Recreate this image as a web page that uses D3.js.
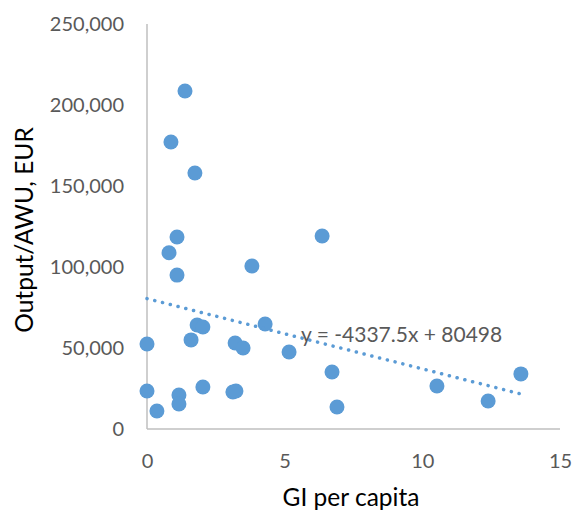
<!DOCTYPE html>
<html>
<head>
<meta charset="utf-8">
<script src="https://cdn.jsdelivr.net/npm/d3@7"></script>
<style>
  html, body { margin: 0; padding: 0; background: #fff; }
  svg { display: block; font-family: Lato, "Open Sans", sans-serif; }
</style>
</head>
<body>
<svg id="chart" width="572" height="511"></svg>
<script>
const giPerCapita = [1.38, 0.87, 1.74, 1.09, 0.80, 1.09, 3.81, 6.36, 4.29, 1.82, 2.03, 1.60, 0.00, 3.20, 3.49, 5.16, 6.72, 13.58, 10.53, 12.39, 6.90, 0.00, 1.16, 1.16, 2.03, 3.12, 3.23, 0.36];
const outputPerAWU = [208600, 177200, 158000, 118500, 108800, 95000, 100600, 119100, 64800, 64200, 63000, 55000, 52500, 53100, 50000, 47500, 35200, 34000, 26500, 17300, 13600, 23500, 21000, 15400, 25900, 22800, 23500, 11100];
const xTicks = [0, 5, 10, 15];
const yTicks = [0, 50000, 100000, 150000, 200000, 250000];
const trendSlope = -4337.5;
const trendIntercept = 80498;
const trendLabel = "y = -4337.5x + 80498";
const xTitle = "GI per capita";
const yTitle = "Output/AWU, EUR";

const svg = d3.select("#chart");
const x = d3.scaleLinear().domain([0, 15]).range([147, 560]);
const y = d3.scaleLinear().domain([0, 250000]).range([429, 24]);
const textColor = "#595959";
const axisColor = "#BFBFBF";

// axis lines
svg.append("line").attr("x1", x(0)).attr("x2", x(0)).attr("y1", y(250000)).attr("y2", y(0))
  .attr("stroke", axisColor).attr("stroke-width", 1.5);
svg.append("line").attr("x1", x(0)).attr("x2", x(15)).attr("y1", y(0)).attr("y2", y(0))
  .attr("stroke", axisColor).attr("stroke-width", 1.5);

const yAxis = svg.append("g").attr("transform", `translate(${x(0)},0)`)
  .call(d3.axisLeft(y).tickValues(yTicks).tickSize(0).tickPadding(23).tickFormat(d3.format(",")));
yAxis.select(".domain").remove();
yAxis.selectAll("text").attr("fill", textColor).style("font-size", "20px").style("font-family", "Lato, 'Open Sans', sans-serif");

const xAxis = svg.append("g").attr("transform", `translate(0,${y(0)})`)
  .call(d3.axisBottom(x).tickValues(xTicks).tickSize(0).tickPadding(25).tickFormat(d3.format("d")));
xAxis.select(".domain").remove();
xAxis.selectAll("text").attr("fill", textColor).style("font-size", "20px").style("font-family", "Lato, 'Open Sans', sans-serif");

// points
const pts = giPerCapita.map((g, i) => ({ g, v: outputPerAWU[i] }));
svg.append("g").selectAll("circle").data(pts).join("circle")
  .attr("cx", d => x(d.g)).attr("cy", d => y(d.v)).attr("r", 7.5)
  .attr("fill", "#5B9BD5");

// trendline
const xMin = d3.min(giPerCapita), xMax = d3.max(giPerCapita);
svg.append("line")
  .attr("x1", x(xMin)).attr("y1", y(trendSlope * xMin + trendIntercept))
  .attr("x2", x(xMax)).attr("y2", y(trendSlope * xMax + trendIntercept))
  .attr("stroke", "#5B9BD5").attr("stroke-width", 3.5)
  .attr("stroke-linecap", "round").attr("stroke-dasharray", "0.1 7.9");

svg.append("text").attr("x", 301).attr("y", 342)
  .attr("fill", textColor).style("font-size", "21px").text(trendLabel);

// titles
svg.append("text").attr("x", 351).attr("y", 506).attr("text-anchor", "middle")
  .attr("fill", "#000").style("font-size", "24.5px").text(xTitle);
svg.append("text").attr("transform", "translate(33,230) rotate(-90)").attr("text-anchor", "middle")
  .attr("fill", "#000").style("font-size", "24.5px").text(yTitle);
</script>
</body>
</html>
